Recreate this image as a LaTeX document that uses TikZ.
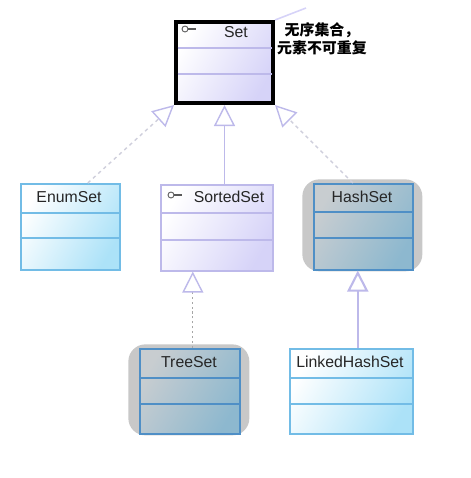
\documentclass[tikz,border=0pt]{standalone}
\usepackage{fontspec}
\setmainfont{Liberation Sans}
\newfontfamily\cjkfont{Noto Sans CJK SC}
\usetikzlibrary{arrows.meta,positioning,fit}
\definecolor{IfaceLine}{HTML}{BDB9EA}
\definecolor{IfaceFill}{HTML}{D6D3F8}
\definecolor{ClassLine}{HTML}{72BCE6}
\definecolor{ClassFill}{HTML}{ACE2F8}
\definecolor{HeldLine}{HTML}{4F8FC6}
\definecolor{HeldFillA}{HTML}{C8CDD0}
\definecolor{HeldFillB}{HTML}{8DB8CF}
\definecolor{HaloGrey}{HTML}{C8C8C8}
\definecolor{LinkMuted}{HTML}{CFCFDC}

\begin{document}
\begin{tikzpicture}[
    x=0.02cm, y=-0.02cm,
    umlbox/.style={
      anchor=north west,
      minimum width=#1,
      minimum height=1.72cm,
      inner sep=0pt
    },
    iface/.style={
      umlbox=#1,
      draw=IfaceLine,
      line width=0.9pt,
      left color=white,
      right color=IfaceFill,
      shading angle=60
    },
    klass/.style={
      umlbox=#1,
      draw=ClassLine,
      line width=0.9pt,
      left color=white,
      right color=ClassFill,
      shading angle=60
    },
    held/.style={
      umlbox=#1,
      draw=HeldLine,
      line width=0.9pt,
      left color=HeldFillA,
      right color=HeldFillB,
      shading angle=60
    },
    halo/.style={
      fill=HaloGrey,
      rounded corners=0.34cm,
      inner sep=0pt
    },
    title/.style={
      font=\fontsize{9}{11}\selectfont,
      text=black!85,
      inner sep=0pt
    },
    keyring/.style={
      circle,
      draw=black!65,
      line width=0.5pt,
      minimum size=3.4pt,
      inner sep=0pt
    },
    keyarm/.style={
      draw=black!65,
      line width=0.6pt
    },
    inherit/.style={
      -{Triangle[open,fill=white,color=IfaceLine,length=12pt,width=12pt]},
      line width=0.8pt,
      color=IfaceLine
    },
    realize/.style={
      inherit,
      dash pattern=on 2pt off 2pt,
      color=LinkMuted
    }
  ]
  \useasboundingbox (0,0) rectangle (471,478);

  % Grey marks behind two classes
  \node[halo, minimum width=2.4cm, minimum height=1.84cm, anchor=north west] (hashhalo) at (302,179) {};
  \node[halo, minimum width=2.42cm, minimum height=1.82cm, anchor=north west] (treehalo) at (128,344) {};

  % Set
  \node[iface=1.94cm, draw=black, line width=2.3pt, minimum height=1.62cm] (set) at (174,20) {};
  \node[title] (setname) at (236,32) {Set};
  \node[keyring] (setkey) at (185,29) {};
  \draw[keyarm] (setkey.east) -- ++(8,0);

  % Second row
  \node[klass=1.98cm] (enumset) at (20,183) {};
  \node[title] (enumname) at (69,197) {EnumSet};
  \node[iface=2.24cm] (sortedset) at (160,184) {};
  \node[title] (sortedname) at (229,197) {SortedSet};
  \node[keyring] (sortedkey) at (171,195) {};
  \draw[keyarm] (sortedkey.east) -- ++(8,0);
  \node[held=1.98cm] (hashset) at (313,183) {};
  \node[title] (hashname) at (362,197) {HashSet};

  % Third row
  \node[held=2.0cm, minimum height=1.7cm] (treeset) at (139,348) {};
  \node[title] (treename) at (189,362) {TreeSet};
  \node[klass=2.46cm, minimum height=1.7cm] (linkedset) at (289,348) {};
  \node[title] (linkedname) at (350,362) {LinkedHashSet};

  % Compartments
  \foreach \b/\ya/\yb/\c/\s in {set/48/74/IfaceLine/2pt, enumset/213/238/ClassLine/0pt,
      sortedset/213/240/IfaceLine/0pt, hashset/212/238/HeldLine/0pt,
      treeset/378/404/HeldLine/0pt, linkedset/378/404/ClassLine/0pt} {
    \draw[\c, line width=0.9pt, shorten <=\s, shorten >=\s] (\b.west |- 0,\ya) -- (\b.east |- 0,\ya);
    \draw[\c, line width=0.9pt, shorten <=\s, shorten >=\s] (\b.west |- 0,\yb) -- (\b.east |- 0,\yb);
  }

  % Note
  \node[font=\cjkfont\bfseries\fontsize{8.5}{10.2}\selectfont, align=center, inner sep=0pt] (setnote) at (322,39)
    {无序集合，\\元素不可重复};
  \coordinate (noteend) at (306,8);
  \draw[IfaceFill, line width=0.9pt] (set.north east) -- (noteend);

  % Arrows
  \draw[realize] ([xshift=0.35cm]enumset.north) -- (set.south west);
  \draw[inherit] (sortedset.north -| set.south) -- (set.south);
  \draw[realize] ([xshift=-0.21cm]hashset.north) -- (set.south east);
  \draw[realize, dash pattern=on 1.2pt off 1.6pt, color=black!35] ([xshift=-0.48cm]sortedset.south |- treeset.north) -- ([xshift=-0.48cm]sortedset.south);
  \draw[inherit, line width=1.2pt] ([xshift=-0.11cm]hashset.south |- linkedset.north) -- ([xshift=-0.11cm]hashset.south);
\end{tikzpicture}
\end{document}
